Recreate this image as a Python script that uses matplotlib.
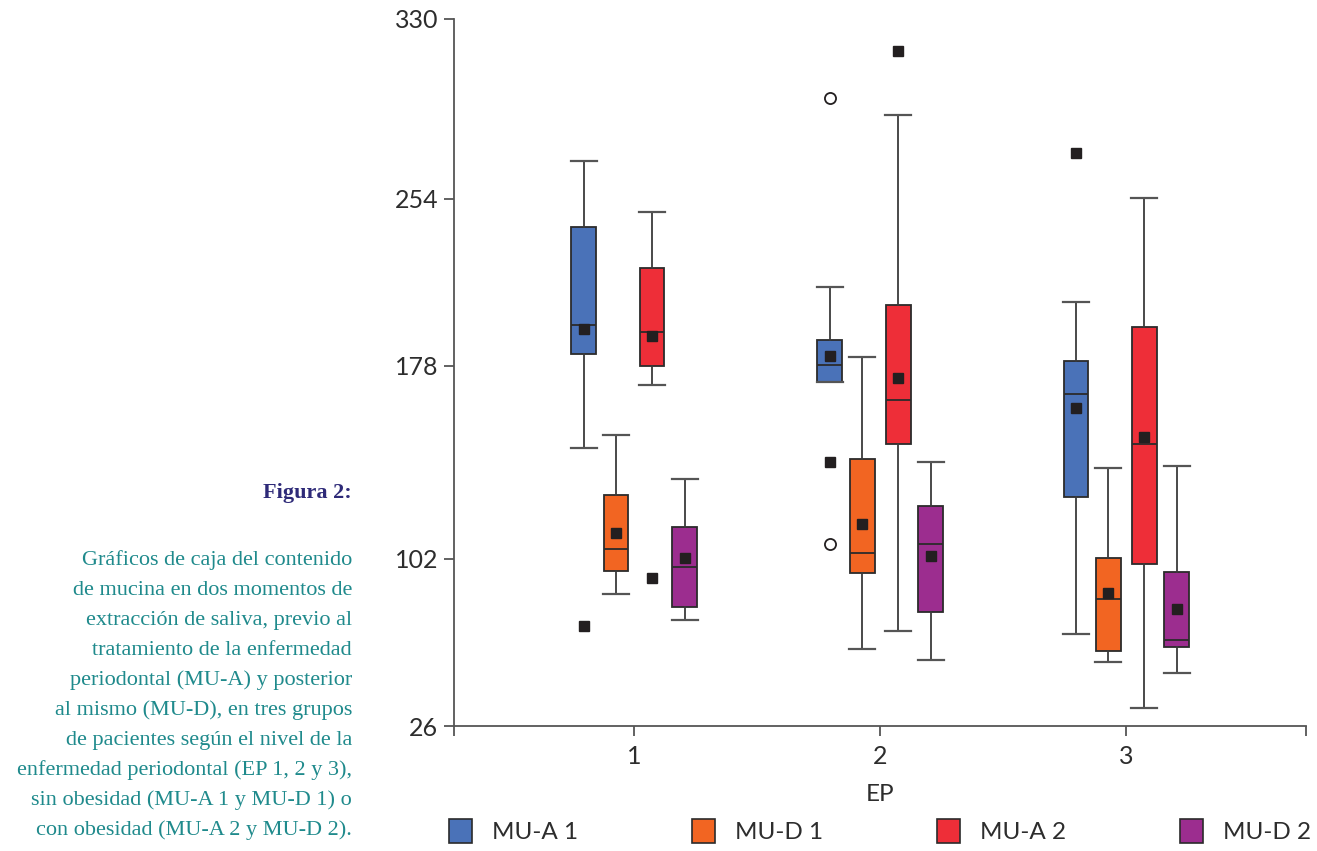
import numpy as np
import matplotlib.pyplot as plt
from matplotlib.patches import Patch

plt.rcParams['font.family'] = ['Lato', 'DejaVu Sans']

# ===datos (mucina por grupo EP)
ep = [1, 2, 3]
series = ['MU-A 1', 'MU-D 1', 'MU-A 2', 'MU-D 2']
colors = ['#4a72b8', '#f26522', '#ee2e38', '#9c2d8f']

whislo = {'MU-A 1': [145.7, 171.6, 68.0], 'MU-D 1': [86.1, 61.2, 55.1],
          'MU-A 2': [170.6, 69.2, 34.3], 'MU-D 2': [74.1, 56.2, 50.3]}
q1 = {'MU-A 1': [183.5, 171.6, 126.4], 'MU-D 1': [96.4, 95.5, 60.0],
      'MU-A 2': [178.1, 147.2, 99.6], 'MU-D 2': [80.3, 77.7, 61.8]}
med = {'MU-A 1': [196.7, 178.3, 166.9], 'MU-D 1': [106.1, 104.2, 83.8],
       'MU-A 2': [193.6, 164.5, 147.3], 'MU-D 2': [98.5, 107.9, 65.1]}
q3 = {'MU-A 1': [241.2, 189.7, 180.4], 'MU-D 1': [127.3, 141.3, 102.4],
      'MU-A 2': [222.7, 205.6, 195.9], 'MU-D 2': [114.6, 122.9, 96.1]}
whishi = {'MU-A 1': [270.0, 214.0, 207.0], 'MU-D 1': [150.9, 182.1, 137.9],
          'MU-A 2': [247.9, 289.4, 254.4], 'MU-D 2': [133.5, 140.3, 138.8]}
means = {'MU-A 1': [194.8, 182.6, 161.5], 'MU-D 1': [112.4, 115.8, 86.4],
         'MU-A 2': [191.7, 173.4, 150.2], 'MU-D 2': [102.4, 103.1, 79.4]}

# valores extremos (cuadrado) y atípicos (círculo): (EP, serie, valor)
extremes = [(1, 'MU-A 1', 71.5), (1, 'MU-A 2', 93.3), (2, 'MU-A 1', 140.2),
            (2, 'MU-A 2', 316.5), (3, 'MU-A 1', 273.3)]
outliers = [(2, 'MU-A 1', 296.5), (2, 'MU-A 1', 107.9)]

y_ticks = [26, 102, 178, 254, 330]
# espaciado (desigual) de las marcas del eje Y en el original
y_stretch = [0, 167, 360, 527, 707]

caption_title = 'Figura 2:'
caption = ['Gráficos de caja del contenido',
           'de mucina en dos momentos de',
           'extracción de saliva, previo al',
           'tratamiento de la enfermedad',
           'periodontal (MU-A) y posterior',
           'al mismo (MU-D), en tres grupos',
           'de pacientes según el nivel de la',
           'enfermedad periodontal (EP 1, 2 y 3),',
           'sin obesidad (MU-A 1 y MU-D 1) o',
           'con obesidad (MU-A 2 y MU-D 2).']


def fwd(v):
    v = np.asarray(v, float)
    out = np.interp(v, y_ticks, y_stretch)
    out = np.where(v < y_ticks[0], (v - y_ticks[0]) * 167 / 76, out)
    return np.where(v > y_ticks[-1], y_stretch[-1] + (v - y_ticks[-1]) * 180 / 76, out)


def inv(p):
    p = np.asarray(p, float)
    out = np.interp(p, y_stretch, y_ticks)
    out = np.where(p < 0, y_ticks[0] + p * 76 / 167, out)
    return np.where(p > y_stretch[-1], y_ticks[-1] + (p - y_stretch[-1]) * 76 / 180, out)


offsets = dict(zip(series, [-0.205, -0.073, 0.073, 0.205]))
edge = '#2b2b2b'
grey = '#555555'

fig = plt.figure(figsize=(13.17, 8.51), dpi=100)
ax = fig.add_axes([454 / 1317, 1 - 726 / 851, 852 / 1317, 707 / 851])
ax.set_yscale('function', functions=(fwd, inv))

for name, col in zip(series, colors):
    stats = []
    for i in range(len(ep)):
        stats.append(dict(whislo=whislo[name][i], q1=q1[name][i], med=med[name][i],
                          q3=q3[name][i], whishi=whishi[name][i], mean=means[name][i],
                          fliers=[]))
    pos = [g + offsets[name] for g in ep]
    ax.bxp(stats, positions=pos, widths=0.1, capwidths=0.105, patch_artist=True,
           showmeans=True, showfliers=False, manage_ticks=False,
           boxprops=dict(facecolor=col, edgecolor=edge, linewidth=1.3),
           medianprops=dict(color=edge, linewidth=1.3),
           whiskerprops=dict(color='#3a3a3a', linewidth=1.3),
           capprops=dict(color=grey, linewidth=1.6),
           meanprops=dict(marker='s', markersize=7.5, markerfacecolor='#231f20',
                          markeredgecolor='#231f20'))

for g, name, val in extremes:
    ax.plot(g + offsets[name], val, 's', ms=7.5, color='#231f20', zorder=5)
for g, name, val in outliers:
    ax.plot(g + offsets[name], val, 'o', ms=8, mfc='white', mec='#231f20', mew=1.3, zorder=5)

ax.set_xlim(0.268, 3.73)
ax.set_ylim(26, 330)
ax.set_yticks(y_ticks)
ax.set_yticklabels([str(t) for t in y_ticks])
ax.set_xticks([0.268, 1, 2, 3, 3.73])
ax.set_xticklabels(['', '1', '2', '3', ''])
ax.minorticks_off()
ax.tick_params(axis='both', length=7.5, width=1.3, color=grey, labelsize=18,
               labelcolor='#2d2d2d')
ax.tick_params(axis='y', pad=4)
ax.tick_params(axis='x', pad=6)
for s in ['top', 'right']:
    ax.spines[s].set_visible(False)
for s in ['left', 'bottom']:
    ax.spines[s].set_color(grey)
    ax.spines[s].set_linewidth(1.3)
ax.set_xlabel('EP', fontsize=17.5, color='#2d2d2d', labelpad=12)

handles = [Patch(facecolor=c, edgecolor=edge, linewidth=1.2) for c in colors]
ax.legend(handles, series, loc='center', bbox_to_anchor=(0.5, -0.149), ncol=4,
          frameon=False, fontsize=17.5, handlelength=0.95, handleheight=1.1,
          handletextpad=0.8, columnspacing=4.7, labelcolor='#2d2d2d')

# ===leyenda de la figura (texto a la izquierda)
fig.text(352 / 1317, 1 - 498 / 851, caption_title, ha='right', va='baseline',
         fontsize=16, fontweight='bold', color='#2e2a78', family='Liberation Serif')
for k, line in enumerate(caption):
    fig.text(352 / 1317, 1 - (565 + 30 * k) / 851, line, ha='right', va='baseline',
             fontsize=16, color='#1f8a8c', family='Liberation Serif')

fig.savefig('out.png', dpi=100)
